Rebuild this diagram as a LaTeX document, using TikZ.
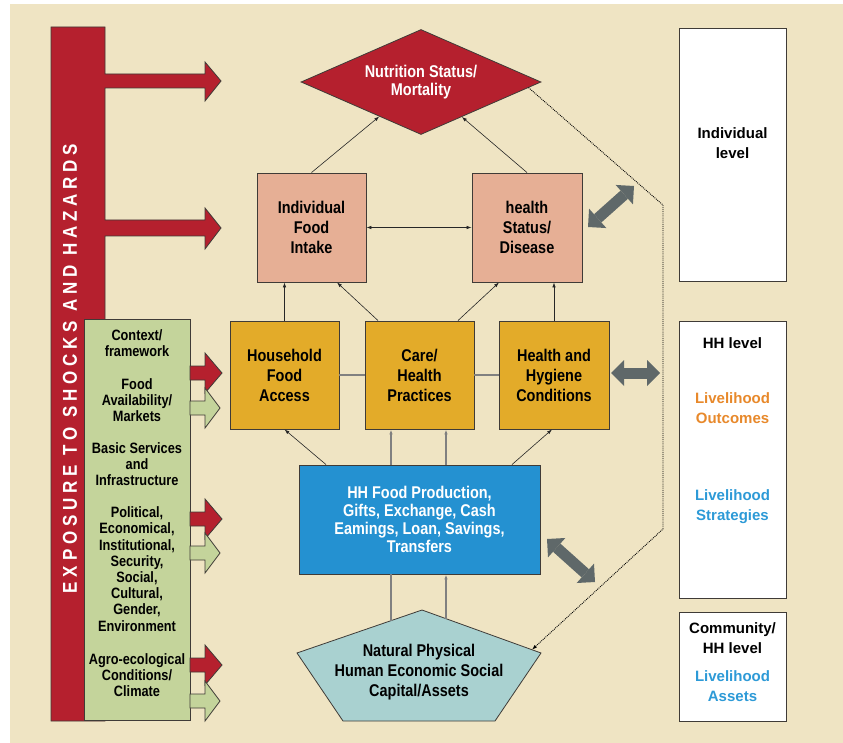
\documentclass[tikz,border=0pt]{standalone}
\usepackage{fontspec}
\usepackage{tikz}
\usetikzlibrary{shapes.geometric,arrows.meta,calc}
\setmainfont{Liberation Sans}
\newfontfamily\condfont{Liberation Sans}[FakeStretch=0.85]
\newfontfamily\vertfont{Liberation Sans}[FakeStretch=0.85,LetterSpace=24]

\definecolor{bgbeige}{HTML}{EFE4C3}
\definecolor{shockred}{HTML}{B5202E}
\definecolor{ctxgreen}{HTML}{C4D49B}
\definecolor{indpink}{HTML}{E6AF95}
\definecolor{hhorange}{HTML}{E3AB29}
\definecolor{stratblue}{HTML}{2491D1}
\definecolor{assetteal}{HTML}{A9D1D0}
\definecolor{dblgray}{HTML}{5F6869}
\definecolor{edgegray}{HTML}{3F3B37}
\definecolor{outtxt}{HTML}{E8892B}
\definecolor{strattxt}{HTML}{2D9AD7}

\begin{document}
\begin{tikzpicture}[x=1pt,y=1pt,>={Latex[length=5pt,width=3.5pt]},
    box/.style={draw=edgegray, line width=0.9pt, align=center, minimum width=109pt, minimum height=109pt, font=\condfont\bfseries\fontsize{17}{20}\selectfont},
    ctxtext/.style={align=center, font=\condfont\bfseries\fontsize{15}{16.2}\selectfont},
    lvlbox/.style={draw=edgegray, fill=white, line width=0.9pt, minimum width=107pt},
    lvltext/.style={align=center, font=\bfseries\fontsize{15}{20}\selectfont},
    conn/.style={draw=black!85, line width=0.6pt, ->},
    link/.style={draw=black!50, line width=1.2pt},
    dblarrow/.style={draw=dblgray, line width=11pt, {Triangle[length=13pt,width=26pt,line width=0pt]}-{Triangle[length=13pt,width=26pt,line width=0pt]}}]
    \tikzstyle{every node}+=[inner sep=0pt]
    \useasboundingbox (0,0) rectangle (843,-743);
    \fill [white] (0,0) rectangle (843,-743);
    \fill [bgbeige] (10,-4) rectangle (843,-743);

    % shocks bar with its two big arrows
    \filldraw [fill=shockred, draw=edgegray, line width=0.8pt] (51,-27) -- (105,-27) -- (105,-74) -- (205,-74) -- (205,-62) -- (221,-81)
        -- (205,-101) -- (205,-88) -- (105,-88) -- (105,-220) -- (205,-220) -- (205,-208) -- (221,-228) -- (205,-249)
        -- (205,-236) -- (105,-236) -- (105,-721) -- (51,-721) -- cycle;
    \node [rotate=90, text=white, font=\vertfont\bfseries\fontsize{20}{20}\selectfont] (shocks) at (70,-368.5) {EXPOSURE TO SHOCKS AND HAZARDS};

    % context column
    \filldraw [fill=ctxgreen, draw=edgegray, line width=0.8pt] (84,-319) rectangle (190,-720);
    \node [ctxtext] (ctx) at (137,-343) {Context/\\framework};
    \node [ctxtext] (avail) at (137,-400) {Food\\Availability/\\Markets};
    \node [ctxtext] (basic) at (137,-464) {Basic Services\\and\\Infrastructure};
    \node [ctxtext] (polit) at (137,-569) {Political,\\Economical,\\Institutional,\\Security,\\Social,\\Cultural,\\Gender,\\Environment};
    \node [ctxtext] (agro) at (137,-675) {Agro-ecological\\Conditions/\\Climate};
    \filldraw [fill=shockred, draw=edgegray, line width=0.8pt] (190,-366) -- (205,-366) -- (205,-353) -- (222,-373) -- (205,-393) -- (205,-380) -- (190,-380) -- cycle;
    \filldraw [fill=ctxgreen, draw=edgegray, line width=0.8pt] (190,-401) -- (205,-401) -- (205,-388) -- (220,-408) -- (205,-428) -- (205,-415) -- (190,-415) -- cycle;
    \filldraw [fill=shockred, draw=edgegray, line width=0.8pt] (190,-512) -- (205,-512) -- (205,-499) -- (222,-519) -- (205,-539) -- (205,-526) -- (190,-526) -- cycle;
    \filldraw [fill=ctxgreen, draw=edgegray, line width=0.8pt] (190,-546) -- (205,-546) -- (205,-533) -- (220,-553) -- (205,-573) -- (205,-560) -- (190,-560) -- cycle;
    \filldraw [fill=shockred, draw=edgegray, line width=0.8pt] (190,-658) -- (205,-658) -- (205,-645) -- (222,-665) -- (205,-685) -- (205,-672) -- (190,-672) -- cycle;
    \filldraw [fill=ctxgreen, draw=edgegray, line width=0.8pt] (190,-694) -- (205,-694) -- (205,-681) -- (220,-701) -- (205,-721) -- (205,-708) -- (190,-708) -- cycle;

    % outcome, determinants and strategies
    \node [diamond, aspect=2.3, fill=shockred, draw=edgegray, line width=0.8pt, minimum width=240pt, minimum height=105pt, text=white, align=center,
        font=\condfont\bfseries\fontsize{17}{18}\selectfont] (nutr) at (421,-82) {Nutrition Status/\\Mortality};
    \node [box, fill=indpink] (indiv) at (311.5,-227.5) {Individual\\Food\\Intake};
    \node [box, fill=indpink, minimum width=110pt] (hstat) at (527,-227.5) {health\\Status/\\Disease};
    \node [box, fill=hhorange, minimum height=108pt] (hfa) at (284.5,-375) {Household\\Food\\Access};
    \node [box, fill=hhorange, minimum height=108pt] (care) at (419.5,-375) {Care/\\Health\\Practices};
    \node [box, fill=hhorange, minimum height=108pt, minimum width=110pt] (hyg) at (554,-375) {Health and\\Hygiene\\Conditions};
    \node [box, fill=stratblue, text=white, minimum width=241pt, font=\condfont\bfseries\fontsize{17}{18}\selectfont] (hhfp) at (419.5,-519.5)
        {HH Food Production,\\Gifts, Exchange, Cash\\Eamings, Loan, Savings,\\Transfers};

    % capital assets
    \coordinate (ptop) at (422,-610);
    \coordinate (pright) at (541,-653);
    \coordinate (pleft) at (297,-653);
    \filldraw [fill=assetteal, draw=edgegray, line width=0.8pt] (ptop) -- (pright) -- (495,-721) -- (343,-721) -- (pleft) -- cycle;
    \node [align=center, font=\condfont\bfseries\fontsize{17}{20}\selectfont] (capital) at (419,-672) {Natural Physical\\Human Economic Social\\Capital/Assets};

    \draw [conn] (indiv.north) -- (nutr);
    \draw [conn] (hstat.north) -- (nutr);
    \draw [conn, <->] (indiv) -- (hstat);
    \draw [conn] (hfa.north) -- (hfa.north |- indiv.south);
    \draw [conn] ([xshift=-41.5pt]care.north) -- ([xshift=25.5pt]indiv.south);
    \draw [conn] ([xshift=38.5pt]care.north) -- ([xshift=-28pt]hstat.south);
    \draw [conn] (hyg.north) -- (hyg.north |- hstat.south);
    \draw [link] (hfa) -- (care);
    \draw [link] (care) -- (hyg);
    \draw [conn] ([xshift=-93.5pt]hhfp.north) -- (hfa.south);
    \draw [link, ->] ([xshift=-28.5pt]hhfp.north) -- ([xshift=-28.5pt]care.south);
    \draw [link, ->] ([xshift=26.5pt]hhfp.north) -- ([xshift=26.5pt]care.south);
    \draw [conn] ([xshift=92.5pt]hhfp.north) -- ([xshift=-2pt]hyg.south);
    \coordinate (pa) at ($(ptop)!0.248!(pleft)$);
    \coordinate (pb) at ($(ptop)!0.2017!(pright)$);
    \draw [link] (pa) -- (pa |- hhfp.south);
    \draw [link, ->] (pb) -- (pb |- hhfp.south);

    % dotted feedback
    \coordinate (pc) at ($(ptop)!0.924!(pright)$);
    \coordinate (dot1) at (663,-205);
    \coordinate (dot2) at (663,-529);
    \draw [densely dotted, line width=0.9pt, ->] (nutr.-3) -- (dot1) -- (dot2) -- (pc);

    % levels
    \node [lvlbox, minimum height=253pt] (lvlind) at (732.5,-154.5) {};
    \node [lvltext] (indlvl) at (732.5,-143.5) {Individual\\level};
    \node [lvlbox, minimum height=277pt] (lvlhh) at (732.5,-459.5) {};
    \node [lvltext] (hhlvl) at (732.5,-343) {HH level};
    \node [lvltext, text=outtxt] (outc) at (732.5,-408) {Livelihood\\Outcomes};
    \node [lvltext, text=strattxt] (strat) at (732.5,-507) {Livelihood\\Strategies};
    \node [lvlbox, minimum height=109pt] (lvlcom) at (732.5,-666.5) {};
    \node [lvltext] (comlvl) at (732.5,-638) {Community/\\HH level};
    \node [lvltext, text=strattxt] (assets) at (732.5,-686) {Livelihood\\Assets};

    \coordinate (g1a) at (588,-227);
    \coordinate (g1b) at (634,-186);
    \coordinate (g2a) at (611,-373);
    \coordinate (g2b) at (660,-373);
    \coordinate (g3a) at (547,-539);
    \coordinate (g3b) at (595,-582);
    \draw [dblarrow] (g1a) -- (g1b);
    \draw [dblarrow] (g2a) -- (g2b);
    \draw [dblarrow] (g3a) -- (g3b);
\end{tikzpicture}
\end{document}
